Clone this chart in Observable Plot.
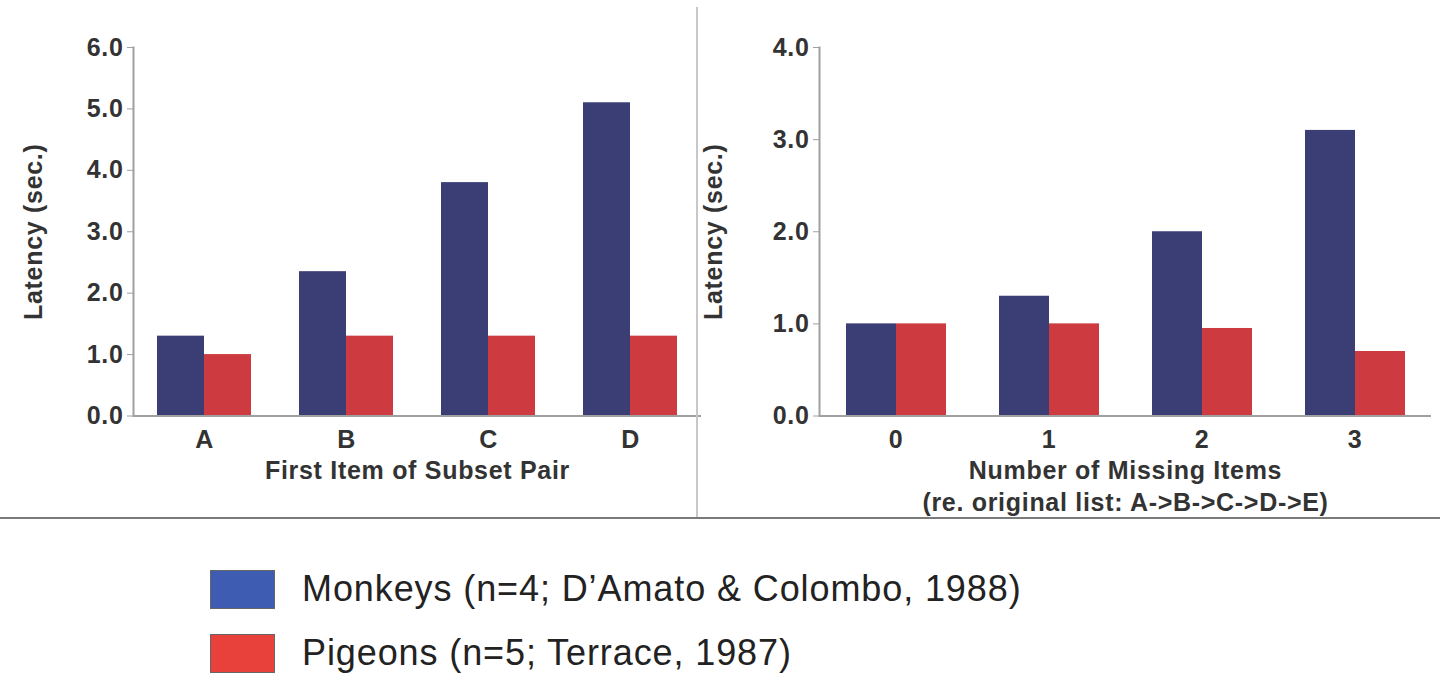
<!DOCTYPE html>
<html>
<head>
<meta charset="utf-8">
<script src="https://cdn.jsdelivr.net/npm/d3@7"></script>
<script src="https://cdn.jsdelivr.net/npm/@observablehq/plot@0.6"></script>
<style>
  html, body { margin: 0; padding: 0; background: #fff; }
  #wrap { position: relative; width: 1440px; height: 688px; overflow: hidden; font-family: "Liberation Sans", Arial, sans-serif; }
  .panel { position: absolute; top: 0; }
  .panel svg { overflow: visible; }
  #vdiv { position: absolute; left: 696px; top: 7px; width: 2px; height: 511px; background: #c8c8c8; }
  #hdiv { position: absolute; left: 0; top: 517px; width: 1440px; height: 2px; background: #7a7a7a; }
  #legend { position: absolute; left: 210px; top: 569px; }
  .item { display: flex; align-items: center; height: 40px; margin-bottom: 24px; }
  .sw { width: 65px; height: 39px; border: 1px solid #666; box-sizing: border-box; margin-right: 27px; }
  .lab { font-size: 36px; letter-spacing: 0.9px; color: #222; white-space: nowrap; }
</style>
</head>
<body>
<div id="wrap">
  <div id="left" class="panel" style="left:0px"></div>
  <div id="right" class="panel" style="left:696px"></div>
  <div id="vdiv"></div>
  <div id="hdiv"></div>
  <div id="legend"></div>
</div>
<script>
// ---- data ----
const series = ["Monkeys", "Pigeons"];
const legendLabels = ["Monkeys (n=4; D\u2019Amato & Colombo, 1988)", "Pigeons (n=5; Terrace, 1987)"];

const leftCategories = ["A", "B", "C", "D"];
const leftMonkeys = [1.3, 2.35, 3.8, 5.1];
const leftPigeons = [1.0, 1.3, 1.3, 1.3];
const leftYTicks = [0, 1, 2, 3, 4, 5, 6];
const leftXLabel = ["First Item of Subset Pair"];

const rightCategories = ["0", "1", "2", "3"];
const rightMonkeys = [1.0, 1.3, 2.0, 3.1];
const rightPigeons = [1.0, 1.0, 0.95, 0.7];
const rightYTicks = [0, 1, 2, 3, 4];
const rightXLabel = ["Number of Missing Items", "(re. original list: A->B->C->D->E)"];

const yLabel = "Latency (sec.)";

// ---- styles ----
const barColors = ["#3b3d75", "#cd3a40"];
const legendColors = ["#3d5cb2", "#e8413b"];
const axisGray = "#a0a0a0";
const textColor = "#333";

function panel({categories, monkeys, pigeons, yTicks, xLabel, width, marginLeft, marginRight, yLabelDx}) {
  const data = categories.flatMap((c, i) => [
    {cat: c, series: series[0], value: monkeys[i]},
    {cat: c, series: series[1], value: pigeons[i]}
  ]);
  return Plot.plot({
    width,
    height: 518,
    marginLeft,
    marginRight,
    marginTop: 47,
    marginBottom: 102.5,
    style: {
      fontFamily: '"Liberation Sans", Arial, sans-serif',
      background: "transparent",
      color: textColor,
      overflow: "visible",
      letterSpacing: "0.7px"
    },
    fx: {domain: categories, padding: 0, label: null},
    x: {domain: series, paddingInner: 0, paddingOuter: 0.51, axis: null},
    y: {domain: [0, d3.max(yTicks)], label: null},
    color: {domain: series, range: barColors},
    marks: [
      Plot.barY(data, {fx: "cat", x: "series", y: "value", fill: "series"}),
      Plot.ruleY([0], {stroke: axisGray, strokeWidth: 2}),
      Plot.frame({anchor: "left", facet: "super", stroke: axisGray, strokeWidth: 2}),
      Plot.axisY({
        ticks: yTicks, tickFormat: d3.format(".1f"), tickSize: 6, tickPadding: 4,
        fontSize: 25, fontWeight: "bold", stroke: axisGray, fill: textColor, label: null
      }),
      Plot.axisFx({
        anchor: "bottom", tickSize: 0, tickPadding: 14,
        fontSize: 25, fontWeight: "bold", fill: textColor, label: null
      }),
      Plot.text([yLabel], {
        facet: "super", frameAnchor: "left", text: d => d, rotate: -90,
        dx: yLabelDx, lineAnchor: "middle", textAnchor: "middle",
        fontSize: 25, fontWeight: "bold", fill: textColor
      }),
      Plot.text([xLabel.join("\n")], {
        facet: "super", frameAnchor: "bottom", text: d => d, lineAnchor: "top",
        dy: 40, lineHeight: 1.28, textAnchor: "middle",
        fontSize: 25, fontWeight: "bold", fill: textColor
      })
    ]
  });
}

document.getElementById("left").append(panel({
  categories: leftCategories, monkeys: leftMonkeys, pigeons: leftPigeons,
  yTicks: leftYTicks, xLabel: leftXLabel,
  width: 704, marginLeft: 132, marginRight: 2, yLabelDx: -100
}));

document.getElementById("right").append(panel({
  categories: rightCategories, monkeys: rightMonkeys, pigeons: rightPigeons,
  yTicks: rightYTicks, xLabel: rightXLabel,
  width: 744, marginLeft: 122, marginRight: 8, yLabelDx: -106
}));

// legend
const legend = document.getElementById("legend");
series.forEach((s, i) => {
  const item = document.createElement("div");
  item.className = "item";
  const sw = document.createElement("div");
  sw.className = "sw";
  sw.style.background = legendColors[i];
  const lab = document.createElement("div");
  lab.className = "lab";
  lab.textContent = legendLabels[i];
  item.append(sw, lab);
  legend.append(item);
});
</script>
</body>
</html>
